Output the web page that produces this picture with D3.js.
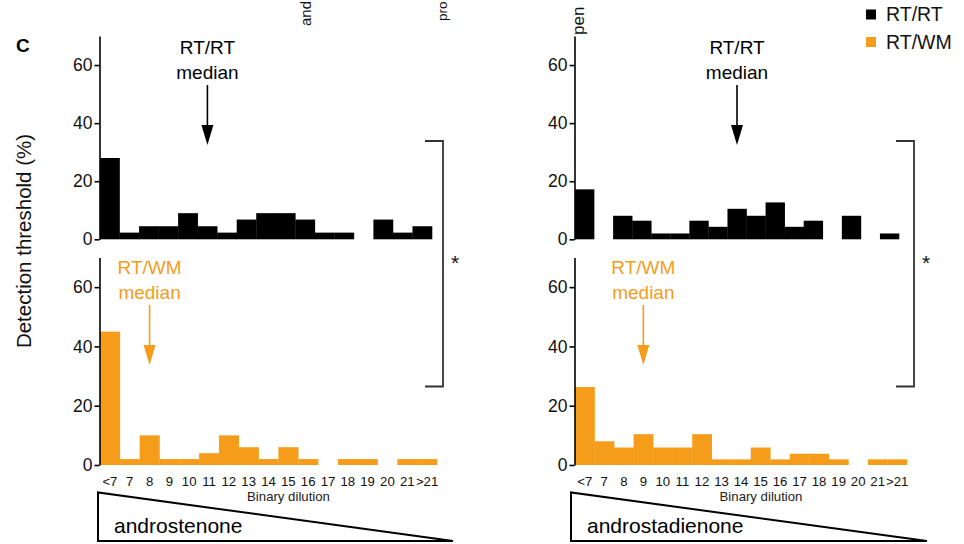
<!DOCTYPE html>
<html><head><meta charset="utf-8">
<script src="https://cdn.jsdelivr.net/npm/d3@7"></script>
<style>body{margin:0;background:#fff}svg{display:block;font-family:"Liberation Sans",Arial,sans-serif}</style>
</head><body><svg id="c" width="964" height="544"></svg>
<script>
const categories = ["<7","7","8","9","10","11","12","13","14","15","16","17","18","19","20","21",">21"];
const andRT = [28,2.3,4.5,4.5,9,4.5,2.3,6.8,9,9,6.8,2.3,2.3,0,6.8,2.3,4.5];
const andWM = [45,2,10,2,2,4,10,6,2,6,2,0,2,2,0,2,2];
const adRT  = [17.2,0,8.1,6.4,2,2,6.4,4.3,10.5,8.1,12.7,4.3,6.4,0,8.1,0,2];
const adWM  = [26.3,8,5.9,10.4,5.9,5.9,10.4,1.9,1.9,5.9,1.9,3.8,3.8,1.9,0,1.9,1.9];
const yTicks = [0,20,40,60];
const medians = {andRT:"11", andWM:"8", adRT:"14", adWM:"9"};
const compounds = ["androstenone","androstadienone"];
const seriesNames = ["RT/RT","RT/WM"];
const topLabels = ["and","pro","pen"];
const colors = {RT:"#000000", WM:"#f59d1b"};

const svg = d3.select("#c");
const FONT = '"Liberation Sans",Arial,sans-serif';

function panel(opts){
  const {axisX, x0, x1, yBot, yTop, data, color, median, label} = opts;
  const x = d3.scaleBand().domain(categories).range([x0, x1]).padding(0);
  const y = d3.scaleLinear().domain([0,70]).range([yBot, yTop]);
  const g = svg.append("g");
  g.selectAll("rect").data(data).join("rect")
    .attr("x", (d,i)=>x(categories[i]))
    .attr("width", x.bandwidth()+0.3)
    .attr("y", d=>y(d))
    .attr("height", d=>y(0)-y(d))
    .attr("fill", color);
  const ax = svg.append("g").attr("transform",`translate(${axisX},0)`)
    .call(d3.axisLeft(y).tickValues(yTicks).tickSize(5).tickSizeOuter(0).tickPadding(2));
  ax.select(".domain").attr("stroke","#000").attr("stroke-width",1.6);
  ax.selectAll(".tick line").attr("stroke","#000").attr("stroke-width",1.6);
  ax.selectAll(".tick text").attr("font-size",17.5).attr("font-family",FONT).attr("fill","#111");
  // median arrow
  const mx = x(median) + x.bandwidth()/2;
  const ty = opts.textY;
  g.append("text").attr("x",mx).attr("y",ty).attr("text-anchor","middle")
    .attr("font-size",19).attr("fill",color).text(label);
  g.append("text").attr("x",mx).attr("y",ty+25).attr("text-anchor","middle")
    .attr("font-size",19).attr("fill",color).text("median");
  g.append("line").attr("x1",mx).attr("x2",mx).attr("y1",ty+31).attr("y2",ty+75)
    .attr("stroke",color).attr("stroke-width",1.6);
  g.append("path").attr("d",`M${mx-6},${ty+71}L${mx+6},${ty+71}L${mx},${ty+91}Z`).attr("fill",color);
  return x;
}

function xLabels(x, yPos, compound, triX0, triX1){
  const g = svg.append("g");
  g.selectAll("text").data(categories).join("text")
    .attr("x", d=>x(d)+x.bandwidth()/2).attr("y", yPos)
    .attr("text-anchor","middle").attr("font-size",13.2).attr("fill","#111").text(d=>d);
  const r = x.range();
  g.append("text").attr("x",(r[0]+r[1])/2+20).attr("y",yPos+15.5).attr("text-anchor","middle")
    .attr("font-size",13.2).attr("fill","#222").text("Binary dilution");
  g.append("path").attr("d",`M${triX0},492.5L${triX0},541L${triX1},541Z`)
    .attr("fill","none").attr("stroke","#000").attr("stroke-width",2);
  g.append("text").attr("x",triX0+16).attr("y",533).attr("font-size",21).attr("fill","#000").text(compound);
}

function bracket(xv){
  svg.append("path").attr("d",`M${xv-18},141L${xv},141L${xv},386.5L${xv-18},386.5`)
    .attr("fill","none").attr("stroke","#333").attr("stroke-width",1.8);
  svg.append("text").attr("x",xv+12).attr("y",270).attr("text-anchor","middle")
    .attr("font-size",21).attr("fill","#111").text("*");
}

// Left: androstenone
panel({axisX:99.5, x0:100, x1:432, yBot:239.3, yTop:36, data:andRT, color:colors.RT, median:medians.andRT, label:seriesNames[0], textY:54});
const xl = panel({axisX:99.5, x0:100, x1:437, yBot:465, yTop:257.5, data:andWM, color:colors.WM, median:medians.andWM, label:seriesNames[1], textY:274});
xLabels(xl, 485.5, compounds[0], 98, 453);
bracket(443);

// Right: androstadienone
panel({axisX:574.5, x0:575, x1:899, yBot:239.3, yTop:36, data:adRT, color:colors.RT, median:medians.adRT, label:seriesNames[0], textY:54});
const xr = panel({axisX:574.5, x0:575, x1:907, yBot:465, yTop:257.5, data:adWM, color:colors.WM, median:medians.adWM, label:seriesNames[1], textY:274});
xLabels(xr, 485.5, compounds[1], 571, 927);
bracket(914);

// Panel letter and y label
svg.append("text").attr("x",16).attr("y",52).attr("font-size",19).attr("font-weight",600).attr("fill","#000").text("C");
svg.append("text").attr("transform","translate(31,241) rotate(-90)").attr("text-anchor","middle")
  .attr("font-size",20.5).attr("fill","#111").text("Detection threshold (%)");

// Top rotated labels (kept inside the frame)
[[topLabels[0],311,26,15],[topLabels[1],447,21,13.5],[topLabels[2],584,35,17]].forEach(([t,xx,yy,fs])=>{
  svg.append("text").attr("transform",`translate(${xx},${yy}) rotate(-90)`)
    .attr("font-size",fs).attr("fill","#111").text(t);
});

// Legend
const leg = svg.append("g");
[[seriesNames[0],colors.RT,9.5],[seriesNames[1],colors.WM,37]].forEach(([t,c,yy])=>{
  leg.append("rect").attr("x",866).attr("y",yy).attr("width",10).attr("height",10).attr("fill",c);
  leg.append("text").attr("x",886).attr("y",yy+11.5).attr("font-size",19.5).attr("fill","#111").text(t);
});
</script></body></html>
